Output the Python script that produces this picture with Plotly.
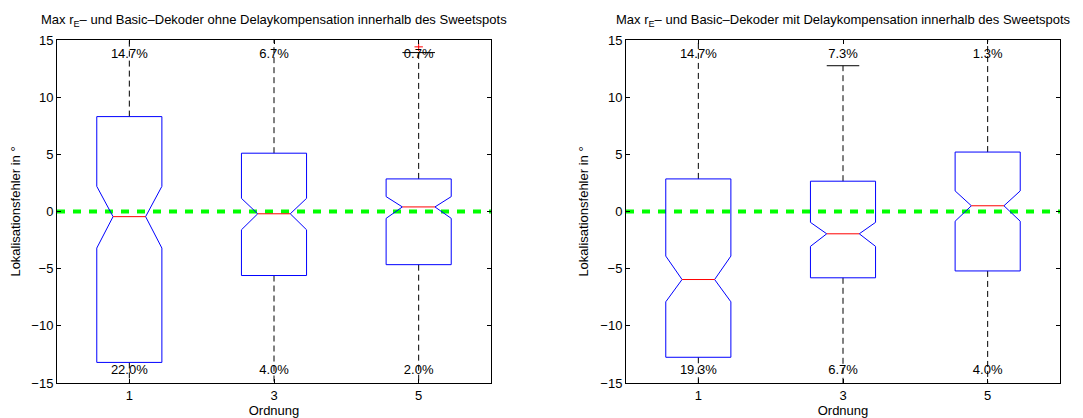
import plotly.graph_objects as go

# ---------------- data ----------------
ordnung = ["1", "3", "5"]
positions = [1, 2, 3]

titles = [
    "Max r<sub>E</sub>– und Basic–Dekoder ohne Delaykompensation innerhalb des Sweetspots",
    "Max r<sub>E</sub>– und Basic–Dekoder mit Delaykompensation innerhalb des Sweetspots",
]

# left panel (ohne Delaykompensation)
L_q1 = [-13.2, -5.6, -4.65]
L_q3 = [8.3, 5.1, 2.85]
L_med = [-0.45, -0.2, 0.4]
L_nlo = [-3.2, -1.6, -0.6]
L_nhi = [2.2, 1.15, 1.3]
L_whi = [None, None, 13.9]      # None = whisker runs beyond axis limit
L_wlo = [None, None, None]
L_out_x = [3]
L_out_y = [14.4]
L_pct_top = ["14.7%", "6.7%", "0.7%"]
L_pct_bot = ["22.0%", "4.0%", "2.0%"]

# right panel (mit Delaykompensation)
R_q1 = [-12.75, -5.8, -5.2]
R_q3 = [2.85, 2.65, 5.2]
R_med = [-5.95, -1.95, 0.5]
R_nlo = [-7.9, -3.05, -0.85]
R_nhi = [-3.9, -0.95, 1.8]
R_whi = [None, 12.75, None]
R_wlo = [None, None, None]
R_out_x = []
R_out_y = []
R_pct_top = ["14.7%", "7.3%", "1.3%"]
R_pct_bot = ["19.3%", "6.7%", "4.0%"]

Y_MIN, Y_MAX = -15, 15
FONT = "Liberation Sans, Arial, sans-serif"
FS = 13
BLUE, RED, GREEN = "#0000FF", "#FF0000", "#00FF00"

fig = go.Figure()

HW = 0.225  # box half width (axis units)


def add_panel(xa, ya, q1, q3, med, nlo, nhi, whi, wlo, ox, oy, ptop, pbot):
    # whiskers
    for i, c in enumerate(positions):
        top = whi[i] if whi[i] is not None else Y_MAX + 1
        bot = wlo[i] if wlo[i] is not None else Y_MIN - 1
        fig.add_trace(go.Scatter(
            x=[c, c, None, c, c], y=[q3[i], top, None, q1[i], bot],
            mode="lines", line=dict(color="black", width=1, dash="6px,4px"),
            xaxis=xa, yaxis=ya, showlegend=False, hoverinfo="skip"))
        caps_x, caps_y = [], []
        if whi[i] is not None:
            caps_x += [c - HW / 2, c + HW / 2, None]
            caps_y += [whi[i], whi[i], None]
        if wlo[i] is not None:
            caps_x += [c - HW / 2, c + HW / 2, None]
            caps_y += [wlo[i], wlo[i], None]
        if caps_x:
            fig.add_trace(go.Scatter(
                x=caps_x, y=caps_y, mode="lines",
                line=dict(color="black", width=1),
                xaxis=xa, yaxis=ya, showlegend=False, hoverinfo="skip"))
    # zero reference line
    fig.add_trace(go.Scatter(
        x=[0.5, 3.5], y=[0, 0], mode="lines",
        line=dict(color=GREEN, width=4, dash="8px,8px"),
        xaxis=xa, yaxis=ya, showlegend=False, hoverinfo="skip"))
    # notched boxes
    for i, c in enumerate(positions):
        bx = [c - HW, c - HW, c - HW / 2, c - HW, c - HW, c + HW, c + HW,
              c + HW / 2, c + HW, c + HW, c - HW]
        by = [q1[i], nlo[i], med[i], nhi[i], q3[i], q3[i], nhi[i],
              med[i], nlo[i], q1[i], q1[i]]
        fig.add_trace(go.Scatter(
            x=bx, y=by, mode="lines", line=dict(color=BLUE, width=1),
            xaxis=xa, yaxis=ya, showlegend=False, hoverinfo="skip"))
        fig.add_trace(go.Scatter(
            x=[c - HW / 2, c + HW / 2], y=[med[i], med[i]], mode="lines",
            line=dict(color=RED, width=1),
            xaxis=xa, yaxis=ya, showlegend=False, hoverinfo="skip"))
    if ox:
        fig.add_trace(go.Scatter(
            x=ox, y=oy, mode="markers",
            marker=dict(symbol="cross-thin", size=6, line=dict(color=RED, width=1)),
            xaxis=xa, yaxis=ya, showlegend=False, hoverinfo="skip", cliponaxis=False))
    # percentage labels
    for i, c in enumerate(positions):
        fig.add_trace(go.Scatter(
            x=[c, c], y=[13.75, -13.9], mode="text",
            text=[ptop[i], pbot[i]], textposition="middle center",
            textfont=dict(family=FONT, size=FS, color="black"),
            xaxis=xa, yaxis=ya, showlegend=False, hoverinfo="skip", cliponaxis=False))


add_panel("x", "y", L_q1, L_q3, L_med, L_nlo, L_nhi, L_whi, L_wlo,
          L_out_x, L_out_y, L_pct_top, L_pct_bot)
add_panel("x2", "y2", R_q1, R_q3, R_med, R_nlo, R_nhi, R_whi, R_wlo,
          R_out_x, R_out_y, R_pct_top, R_pct_bot)

# page body has an 8px margin; figure sized/placed to compensate
OFF = 8
W, H = 1083 - OFF, 418 - OFF


def px_x(p):
    return (p - OFF) / W


def px_y(p):
    return 1 - (p - OFF) / H


dom_l = [px_x(57), px_x(491)]
dom_r = [px_x(626), px_x(1060)]
dom_y = [px_y(383), px_y(40)]

xax = dict(range=[0.5, 3.5], tickvals=positions, ticktext=ordnung,
           showline=True, linecolor="black", linewidth=1, mirror="ticks",
           ticks="inside", ticklen=4, tickcolor="black", showgrid=False,
           zeroline=False, tickfont=dict(family=FONT, size=FS, color="black"),
           title=dict(text="Ordnung", font=dict(family=FONT, size=FS, color="black"),
                      standoff=1),
           automargin=False, fixedrange=True)
yax = dict(range=[Y_MIN, Y_MAX], tickvals=[-15, -10, -5, 0, 5, 10, 15],
           ticktext=["−15", "−10", "−5", "0", "5", "10", "15"],
           showline=True, linecolor="black", linewidth=1, mirror="ticks",
           ticks="inside", ticklen=4, tickcolor="black", showgrid=False,
           zeroline=False, tickfont=dict(family=FONT, size=FS, color="black"),
           title=dict(text="Lokalisationsfehler in °",
                      font=dict(family=FONT, size=FS, color="black"), standoff=8),
           automargin=False, fixedrange=True)

fig.update_layout(
    width=W, height=H,
    margin=dict(l=0, r=0, t=0, b=0, autoexpand=False),
    paper_bgcolor="white", plot_bgcolor="white",
    xaxis=dict(xax, domain=dom_l, anchor="y"),
    yaxis=dict(yax, domain=dom_y, anchor="x"),
    xaxis2=dict(xax, domain=dom_r, anchor="y2"),
    yaxis2=dict(yax, domain=dom_y, anchor="x2"),
    showlegend=False,
)

for k, t in enumerate(titles):
    d = dom_l if k == 0 else dom_r
    fig.add_annotation(text=t, xref="paper", yref="paper",
                       x=(d[0] + d[1]) / 2, y=px_y(20),
                       xanchor="center", yanchor="middle", showarrow=False,
                       font=dict(family=FONT, size=FS, color="black"))

fig.write_html("out.html")
